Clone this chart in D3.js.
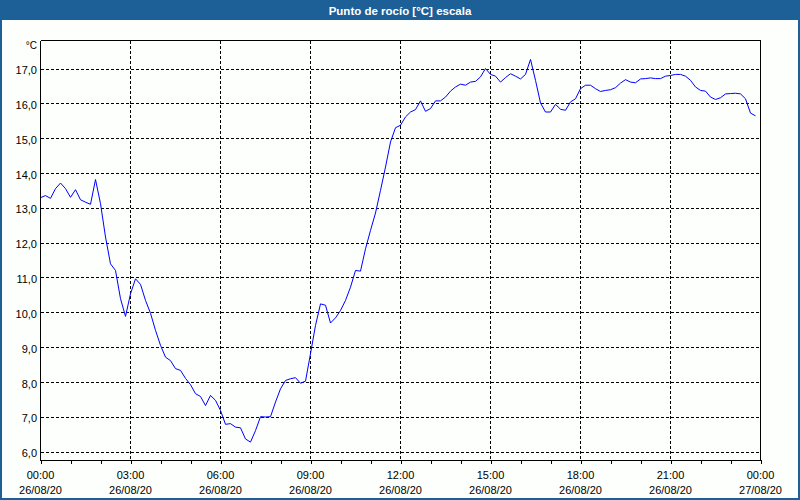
<!DOCTYPE html>
<html>
<head>
<meta charset="utf-8">
<script src="https://cdn.jsdelivr.net/npm/d3@7/dist/d3.min.js"></script>
<style>
html,body{margin:0;padding:0;background:#fff;}
svg{display:block;}
</style>
</head>
<body>
<svg id="chart" width="800" height="500"></svg>
<script>
const title = "Punto de rocío [°C] escala";
const unitLabel = "°C";

const times = [
"00:00","00:10","00:20","00:30","00:40","00:50",
"01:00","01:10","01:20","01:30","01:40","01:50",
"02:00","02:10","02:20","02:30","02:40","02:50",
"03:00","03:10","03:20","03:30","03:40","03:50",
"04:00","04:10","04:20","04:30","04:40","04:50",
"05:00","05:10","05:20","05:30","05:40","05:50",
"06:00","06:10","06:20","06:30","06:40","06:50",
"07:00","07:10","07:20","07:30","07:40","07:50",
"08:00","08:10","08:20","08:30","08:40","08:50",
"09:00","09:10","09:20","09:30","09:40","09:50",
"10:00","10:10","10:20","10:30","10:40","10:50",
"11:00","11:10","11:20","11:30","11:40","11:50",
"12:00","12:10","12:20","12:30","12:40","12:50",
"13:00","13:10","13:20","13:30","13:40","13:50",
"14:00","14:10","14:20","14:30","14:40","14:50",
"15:00","15:10","15:20","15:30","15:40","15:50",
"16:00","16:10","16:20","16:30","16:40","16:50",
"17:00","17:10","17:20","17:30","17:40","17:50",
"18:00","18:10","18:20","18:30","18:40","18:50",
"19:00","19:10","19:20","19:30","19:40","19:50",
"20:00","20:10","20:20","20:30","20:40","20:50",
"21:00","21:10","21:20","21:30","21:40","21:50",
"22:00","22:10","22:20","22:30","22:40","22:50",
"23:00","23:10","23:20","23:30","23:40","23:50"
];

const dewPoint = [
13.29,13.35,13.27,13.55,13.71,13.55,
13.30,13.52,13.23,13.16,13.10,13.81,
13.12,12.16,11.39,11.20,10.39,9.88,
10.53,10.96,10.80,10.34,9.97,9.48,
9.05,8.71,8.61,8.38,8.33,8.10,
7.92,7.66,7.58,7.32,7.61,7.47,
7.18,6.78,6.80,6.70,6.68,6.36,
6.27,6.60,7.00,6.99,7.00,7.42,
7.80,8.04,8.09,8.12,7.96,8.02,
8.81,9.62,10.24,10.20,9.69,9.84,
10.05,10.34,10.72,11.20,11.18,11.82,
12.35,12.85,13.50,14.17,14.89,15.30,
15.37,15.61,15.75,15.82,16.07,15.77,
15.85,16.07,16.07,16.18,16.35,16.47,
16.55,16.52,16.61,16.63,16.76,17.00,
16.83,16.78,16.61,16.74,16.85,16.78,
16.70,16.83,17.26,16.66,16.01,15.75,
15.75,15.97,15.83,15.80,16.04,16.13,
16.42,16.52,16.52,16.42,16.34,16.37,
16.39,16.45,16.58,16.68,16.61,16.59,
16.70,16.71,16.73,16.71,16.71,16.78,
16.80,16.83,16.83,16.78,16.66,16.47,
16.37,16.35,16.18,16.11,16.16,16.27,
16.28,16.29,16.27,16.13,15.72,15.64
];

const xTickTimes = ["00:00","03:00","06:00","09:00","12:00","15:00","18:00","21:00","00:00"];
const xTickDates = ["26/08/20","26/08/20","26/08/20","26/08/20","26/08/20","26/08/20","26/08/20","26/08/20","27/08/20"];
const yTicks = [6,7,8,9,10,11,12,13,14,15,16,17];

const svg = d3.select("#chart");
const W = 800, H = 500;
const FONT = "'Liberation Sans', Arial, sans-serif";
const blue = "#1d5f97";

// frame
svg.append("rect").attr("x",0).attr("y",0).attr("width",W).attr("height",H).attr("fill",blue);
svg.append("rect").attr("x",2).attr("y",20).attr("width",W-4).attr("height",H-22).attr("fill","#fcfffc");
svg.append("text").attr("x",W/2).attr("y",14.5).attr("text-anchor","middle")
  .attr("fill","#fff").attr("font-family",FONT).attr("font-weight","bold").attr("font-size","11.5px")
  .text(title);

const parse = s => { const [h,m] = s.split(":").map(Number); return new Date(2020,7,26,h,m); };
const t0 = new Date(2020,7,26,0,0), t1 = new Date(2020,7,27,0,0);
const x = d3.scaleTime().domain([t0,t1]).range([40.5,760.5]);
const y = d3.scaleLinear().domain([6,17]).range([451.5,68.5]);
const plotTop = 40.5, plotBottom = 460.5;

const data = times.map((t,i)=>({t:parse(t), v:dewPoint[i]}));

// horizontal grid
svg.append("g").selectAll("line").data(yTicks).join("line")
  .attr("x1",41).attr("x2",760).attr("y1",d=>Math.round(y(d))+0.5).attr("y2",d=>Math.round(y(d))+0.5)
  .attr("stroke","#000").attr("stroke-dasharray","3,2").attr("shape-rendering","crispEdges");

// vertical grid
const majorTimes = d3.range(1,8).map(i=>new Date(2020,7,26,i*3,0));
svg.append("g").selectAll("line").data(majorTimes).join("line")
  .attr("x1",d=>x(d)).attr("x2",d=>x(d)).attr("y1",plotTop).attr("y2",plotBottom)
  .attr("stroke","#000").attr("stroke-dasharray","3,2").attr("shape-rendering","crispEdges");

// plot frame
svg.append("path").attr("d",`M40.5,${plotTop}H760.5V${plotBottom}`).attr("fill","none").attr("stroke","#000").attr("shape-rendering","crispEdges");
svg.append("line").attr("x1",40.5).attr("x2",40.5).attr("y1",plotTop).attr("y2",plotBottom).attr("stroke","#000").attr("shape-rendering","crispEdges");

// x axis
const hourTicks = d3.range(0,25).map(i=>new Date(2020,7,26,i,0));
const xAxis = d3.axisBottom(x).tickValues(hourTicks).tickSize(4).tickSizeOuter(0).tickFormat("");
const gx = svg.append("g").attr("transform",`translate(0,${plotBottom-0.5})`).call(xAxis);
gx.select(".domain").attr("stroke","#000").attr("shape-rendering","crispEdges");
gx.selectAll(".tick line").attr("stroke","#000").attr("shape-rendering","crispEdges");

const majorAll = d3.range(0,9).map(i=>new Date(2020,7,26,i*3,0));
const xl = svg.append("g").attr("font-family",FONT).attr("font-size","11px").attr("fill","#000").attr("text-anchor","middle");
xl.selectAll("text.t").data(majorAll).join("text").attr("class","t")
  .attr("x",d=>x(d)).attr("y",479).text((d,i)=>xTickTimes[i]);
xl.selectAll("text.d").data(majorAll).join("text").attr("class","d")
  .attr("x",d=>x(d)).attr("y",494).text((d,i)=>xTickDates[i]);

// y axis labels
const yAxis = d3.axisLeft(y).tickValues(yTicks).tickSize(0)
  .tickFormat(d=>d3.format(".1f")(d).replace(".",","));
const gy = svg.append("g").attr("transform","translate(37,0)").call(yAxis);
gy.select(".domain").remove();
gy.selectAll("text").attr("font-family",FONT).attr("font-size","11px").attr("fill","#000")
  .attr("x",0).attr("dy","0.38em").attr("transform","translate(0,1)");

svg.append("text").attr("x",37).attr("y",49).attr("text-anchor","end")
  .attr("font-family",FONT).attr("font-size","10px").attr("fill","#000").text(unitLabel);

// line
const line = d3.line().x(d=>x(d.t)).y(d=>y(d.v));
svg.append("path").datum(data).attr("d",line).attr("fill","none").attr("stroke","#0000ff").attr("stroke-width",1);
</script>
</body>
</html>
